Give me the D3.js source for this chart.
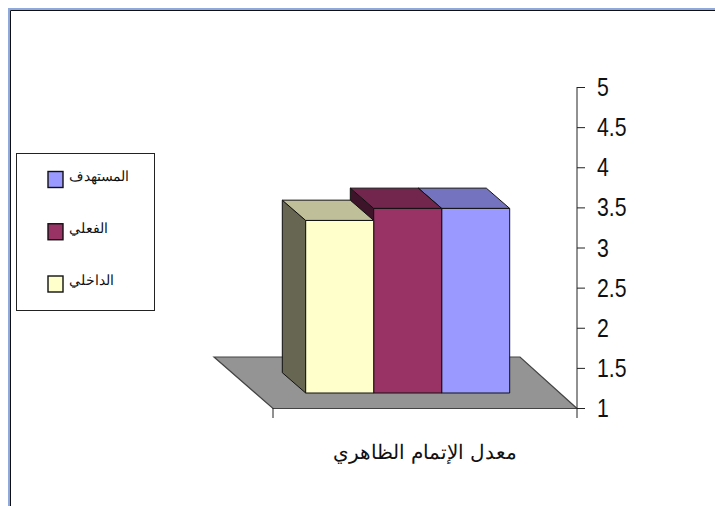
<!DOCTYPE html>
<html><head><meta charset="utf-8">
<script src="https://cdn.jsdelivr.net/npm/d3@7"></script>
<style>html,body{margin:0;padding:0;background:#fff}svg{display:block}
text{font-family:"Liberation Sans",Arial,sans-serif}</style></head>
<body><div id="c"></div>
<script>
const seriesNames=["الداخلي","الفعلي","المستهدف"];
const seriesValues=[3.15,3.3,3.3];
const seriesFront=["#FFFFCC","#993366","#9999FF"];
const seriesTop=["#BFBF99","#73264D","#7373BF"];
const seriesSide=["#666652","#3D1429","#3D3D66"];
const legendOrder=[2,1,0];
const tickValues=[1,1.5,2,2.5,3,3.5,4,4.5,5];
const categoryLabel="معدل الإتمام الظاهري";
const W=715,H=506;
const svg=d3.select("#c").append("svg").attr("width",W).attr("height",H);
// window frame
svg.append("path").attr("d",`M9,506V9H715`).attr("fill","none").attr("stroke","#8EA9DB").attr("stroke-width",2);
svg.append("path").attr("d",`M10.5,506V10.5H715`).attr("fill","none").attr("stroke","#111").attr("stroke-width",1);

const y=d3.scaleLinear().domain([1,5]).range([408,87]);
const x=d3.scaleBand().domain(d3.range(seriesNames.length)).range([305.7,509.7]);
const frontLift=15, dX=23.4, dY=20.3;

// floor
const floor=[[273,408.5],[577,408.5],[520,357],[214,357]];
svg.append("polygon").attr("points",floor.join(" ")).attr("fill","#949494").attr("stroke","#444").attr("stroke-width",1.2);

// bars, painted from the rightmost to the leftmost
const bars=svg.append("g");
const b0=y(1)-frontLift;
d3.range(seriesValues.length).reverse().forEach(i=>{
  const v=seriesValues[i];
  const xl=x(i),xr=xl+x.bandwidth(),t=y(v)-frontLift;
  const g=bars.append("g").attr("stroke","#111").attr("stroke-width",1).attr("stroke-linejoin","round");
  g.append("polygon").attr("points",[[xl,t],[xl,b0],[xl-dX,b0-dY],[xl-dX,t-dY]].join(" ")).attr("fill",seriesSide[i]);
  g.append("polygon").attr("points",[[xl,t],[xr,t],[xr-dX,t-dY],[xl-dX,t-dY]].join(" ")).attr("fill",seriesTop[i]);
  g.append("rect").attr("x",xl).attr("y",t).attr("width",xr-xl).attr("height",b0-t).attr("fill",seriesFront[i]);
});

// value axis
const ax=svg.append("g").attr("transform","translate(577,0)")
  .call(d3.axisRight(y).tickValues(tickValues).tickSize(0).tickPadding(20).tickFormat(d3.format("~g")));
ax.select(".domain").remove();
ax.selectAll("text").attr("fill","#111").attr("text-anchor","start").attr("x",0)
  .attr("transform","translate(20,0.5) scale(0.85,1)").style("font-size","25px");
ax.selectAll("g.tick").append("line").attr("x1",0).attr("x2",8).attr("stroke","#222").attr("stroke-width",1);
svg.append("line").attr("x1",577).attr("x2",577).attr("y1",87).attr("y2",418).attr("stroke","#222").attr("stroke-width",1);
svg.append("line").attr("x1",273).attr("x2",273).attr("y1",408).attr("y2",418).attr("stroke","#222").attr("stroke-width",1);

// category label
svg.append("text").attr("x",425).attr("y",459).attr("text-anchor","middle").attr("direction","rtl")
  .style("font-size","20px").attr("fill","#111").text(categoryLabel);

// legend
const lg=svg.append("g");
lg.append("rect").attr("x",16.5).attr("y",153.5).attr("width",138).attr("height",157).attr("fill","#fff").attr("stroke","#222");
const ly=d3.scalePoint().domain(legendOrder).range([179.5,284]);
legendOrder.forEach(i=>{
  lg.append("rect").attr("x",48).attr("y",ly(i)-8).attr("width",15).attr("height",16).attr("fill",seriesFront[i]).attr("stroke","#111").attr("stroke-width",1.4);
  lg.append("text").attr("x",69).attr("y",ly(i)+1).attr("text-anchor","start").style("font-size","14px").attr("fill","#111").text(seriesNames[i]);
});
</script></body></html>
